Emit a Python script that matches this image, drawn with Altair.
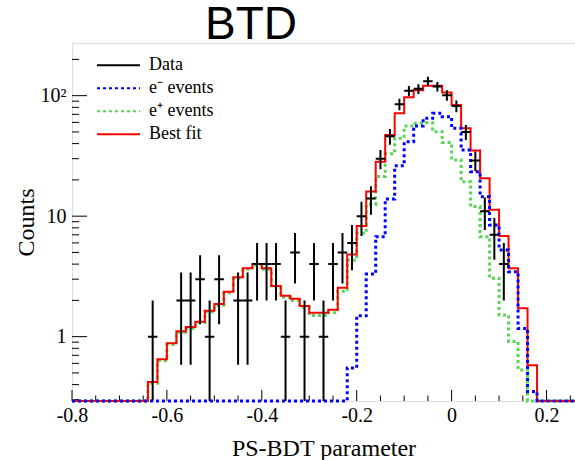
import altair as alt
import pandas as pd
import numpy as np

# ---- bins (left edges, width 0.02) ----
bin_left = [-0.80, -0.78, -0.76, -0.74, -0.72, -0.70, -0.68, -0.66, -0.64, -0.62,
            -0.60, -0.58, -0.56, -0.54, -0.52, -0.50, -0.48, -0.46, -0.44, -0.42,
            -0.40, -0.38, -0.36, -0.34, -0.32, -0.30, -0.28, -0.26, -0.24, -0.22,
            -0.20, -0.18, -0.16, -0.14, -0.12, -0.10, -0.08, -0.06, -0.04, -0.02,
            0.00, 0.02, 0.04, 0.06, 0.08, 0.10, 0.12, 0.14, 0.16, 0.18,
            0.20, 0.22, 0.24]
last_edge = 0.26

best_fit = [0, 0, 0, 0, 0, 0, 0, 0, 0.42, 0.65,
            0.88, 1.11, 1.2, 1.33, 1.64, 1.87, 2.36, 3.11, 3.7, 4.0,
            3.7, 2.63, 2.18, 2.06, 1.8, 1.58, 1.58, 1.67, 2.55, 4.8,
            8.3, 16, 28.3, 47.2, 71.4, 97, 111, 121, 121, 106,
            83.7, 53.6, 35, 20.6, 11.3, 6.85, 3.7, 1.72, 0.58, 0,
            0, 0, 0]

e_minus = [0, 0, 0, 0, 0, 0, 0, 0, 0, 0,
           0, 0, 0, 0, 0, 0, 0, 0, 0, 0,
           0, 0, 0, 0, 0, 0, 0, 0, 0, 0.55,
           1.49, 3.31, 6.76, 13.9, 26.2, 41.5, 56, 64.9, 71.4, 67,
           53.6, 35.4, 23.4, 14.5, 8.45, 5.24, 3.46, 1.17, 0.35, 0,
           0, 0, 0]

e_plus = [0, 0, 0, 0, 0, 0, 0, 0, 0.41, 0.63,
          0.86, 1.09, 1.17, 1.31, 1.61, 1.82, 2.31, 3.05, 3.62, 3.92,
          3.62, 2.58, 2.12, 2.0, 1.75, 1.5, 1.5, 1.58, 2.38, 4.3,
          7.2, 12.5, 21.3, 33, 44.3, 56, 59, 59.5, 50.3, 40.8,
          29.3, 19.3, 12, 6.76, 3.05, 1.51, 0.91, 0.53, 0, 0,
          0, 0, 0]

data_x = [-0.63, -0.57, -0.55, -0.53, -0.51, -0.49, -0.45, -0.43, -0.41, -0.39,
          -0.37, -0.35, -0.33, -0.31, -0.29, -0.27, -0.25, -0.23, -0.21, -0.19,
          -0.17, -0.15, -0.13, -0.11, -0.09, -0.07, -0.05, -0.03, -0.01, 0.01,
          0.03, 0.05, 0.07, 0.09, 0.11]
data_n = [1, 2, 2, 3, 1, 3, 2, 2, 4, 4,
          4, 1, 5, 1, 4, 1, 4, 5, 6, 10,
          14, 30, 46, 85, 110, 114, 132, 119, 101, 82,
          50, 29, 11, 7, 4]
bin_w = 0.02

# ---- axis ticks ----
x_major = [-0.8, -0.6, -0.4, -0.2, 0.0, 0.2]
x_minor = [-0.75, -0.7, -0.65, -0.55, -0.5, -0.45, -0.35, -0.3, -0.25,
           -0.15, -0.1, -0.05, 0.05, 0.1, 0.15, 0.25]
y_major = [1, 10, 100]
y_minor = [0.3, 0.4, 0.5, 0.6, 0.7, 0.8, 0.9, 2, 3, 4, 5, 6, 7, 8, 9,
           20, 30, 40, 50, 60, 70, 80, 90, 200]

title_text = ["BTD"]
names = ["Data", "e\u207b events", "e\u207a events", "Best fit"]
colors = ["#000000", "#0000ff", "#55d655", "#ff0000"]
dashes = [[1, 0], [3, 3], [3, 3], [1, 0]]

XMIN, XMAX = -0.8, 0.26
YMIN, YMAX = 0.2924, 273.6
W, H = 503, 358
SERIF = "Liberation Serif"


def hist_df(vals, name):
    xs = bin_left + [last_edge]
    ys = [max(v, YMIN) for v in vals] + [max(vals[-1], YMIN)]
    return pd.DataFrame({"x": xs, "y": ys, "series": name})


n = np.array(data_n, dtype=float)
err = np.sqrt(n)
cx = np.array(data_x)
errv = pd.DataFrame({"x": cx, "y": np.maximum(n - err, YMIN), "y2": n + err, "series": "Data"})
errh = pd.DataFrame({"x": cx - bin_w / 2, "x2": cx + bin_w / 2, "y": n, "series": "Data"})

xscale = alt.Scale(domain=[XMIN, XMAX], nice=False, zero=False)
yscale = alt.Scale(type="log", domain=[YMIN, YMAX], nice=False)

xaxis = alt.Axis(values=x_major, ticks=False, tickSize=0, domain=False, grid=False,
                 labelFlush=False, labelOverlap=False, labelBound=False,
                 labelExpr="datum.value == 0 ? '0' : (datum.value < 0 ? '-' + format(-datum.value, '.1f') : format(datum.value, '.1f'))",
                 labelFont=SERIF, labelFontSize=20, labelColor="black", labelPadding=4,
                 title="PS-BDT parameter", titleFont=SERIF, titleFontSize=24,
                 titleFontWeight="normal", titleColor="black",
                 titleX=W / 2, titleY=54, titleBaseline="alphabetic", titleAlign="center")
yaxis = alt.Axis(values=y_major, ticks=False, tickSize=0, domain=False, grid=False,
                 labelOverlap=False, labelBound=False,
                 labelExpr="datum.value >= 100 ? '10\u00b2' : format(datum.value, 'd')",
                 labelFont=SERIF, labelFontSize=20, labelColor="black", labelPadding=6,
                 title="Counts", titleFont=SERIF, titleFontSize=24,
                 titleFontWeight="normal", titleColor="black",
                 titleX=-39, titleY=H / 2, titleAngle=270, titleBaseline="alphabetic",
                 titleAlign="center")

X = alt.X("x:Q", scale=xscale, axis=xaxis, title="PS-BDT parameter")
Y = alt.Y("y:Q", scale=yscale, axis=yaxis, title="Counts")

legend = alt.Legend(title=None, orient="none", legendX=24, legendY=11,
                    symbolType="stroke", symbolSize=1849, symbolStrokeWidth=2,
                    labelFont=SERIF, labelFontSize=18, labelColor="black",
                    labelOffset=8, clipHeight=22.5, rowPadding=0, padding=0)
color = alt.Color("series:N", scale=alt.Scale(domain=names, range=colors), legend=legend)
dash = alt.StrokeDash("series:N", scale=alt.Scale(domain=names, range=dashes), legend=legend)

# tick layers
xt_major = alt.Chart(pd.DataFrame({"x": x_major})).mark_rule(color="black", strokeWidth=1).encode(
    x=X, y=alt.value(H), y2=alt.value(H - 11))
xt_minor = alt.Chart(pd.DataFrame({"x": x_minor})).mark_rule(color="black", strokeWidth=1).encode(
    x=X, y=alt.value(H), y2=alt.value(H - 5.5))
yt_major = alt.Chart(pd.DataFrame({"y": y_major})).mark_rule(color="black", strokeWidth=1).encode(
    y=Y, x=alt.value(0), x2=alt.value(15))
yt_minor = alt.Chart(pd.DataFrame({"y": y_minor})).mark_rule(color="black", strokeWidth=1).encode(
    y=Y, x=alt.value(0), x2=alt.value(7))

green = alt.Chart(hist_df(e_plus, names[2])).mark_line(interpolate="step-after", strokeWidth=3).encode(
    x=X, y=Y, color=color, strokeDash=dash)
red = alt.Chart(hist_df(best_fit, names[3])).mark_line(interpolate="step-after", strokeWidth=2).encode(
    x=X, y=Y, color=color, strokeDash=dash)
blue = alt.Chart(hist_df(e_minus, names[1])).mark_line(interpolate="step-after", strokeWidth=3).encode(
    x=X, y=Y, color=color, strokeDash=dash)
ev = alt.Chart(errv).mark_rule(strokeWidth=2).encode(
    x=X, y=Y, y2="y2:Q", color=color, strokeDash=dash)
eh = alt.Chart(errh).mark_rule(strokeWidth=2).encode(
    x=X, x2="x2:Q", y=Y, color=color, strokeDash=dash)

# chart title as text placed above the frame
ttl = alt.Chart(pd.DataFrame({"t": title_text})).mark_text(
    font="Liberation Sans", fontSize=46, align="left", baseline="alphabetic", color="black"
).encode(text="t:N", x=alt.value(133), y=alt.value(-4))

chart = alt.layer(xt_major, xt_minor, yt_major, yt_minor, green, red, blue, ev, eh, ttl).properties(
    width=W, height=H,
    autosize=alt.AutoSizeParams(type="none"),
    padding={"left": 72, "top": 43, "right": 0, "bottom": 59},
    background="white",
).configure_view(stroke="black", strokeWidth=1).configure_legend(
    labelFont=SERIF, labelFontSize=18, labelColor="black"
).configure(style={"guide-label": {"font": SERIF, "fill": "black"}})

chart.save("out.html", embed_options={"renderer": "svg", "actions": False})
